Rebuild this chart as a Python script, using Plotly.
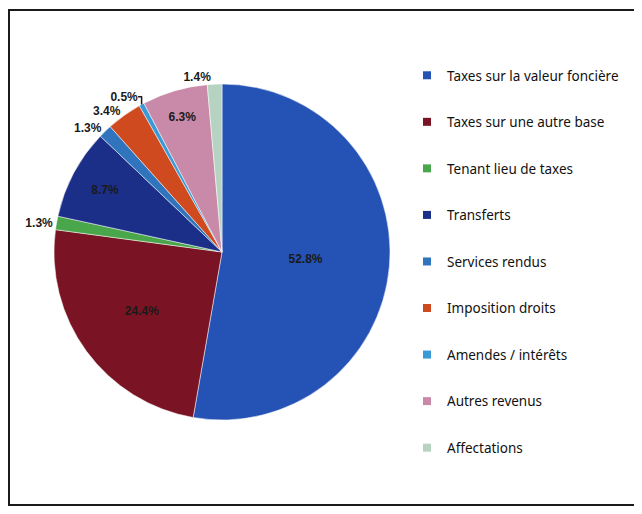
import plotly.graph_objects as go

labels = ["Taxes sur la valeur foncière", "Taxes sur une autre base", "Tenant lieu de taxes",
          "Transferts", "Services rendus", "Imposition droits", "Amendes / intérêts",
          "Autres revenus", "Affectations"]
values = [52.8, 24.4, 1.3, 8.7, 1.3, 3.4, 0.5, 6.3, 1.4]
colors = ["#2553b5", "#7a1424", "#4aa64a", "#1b2f88", "#2f74bd", "#cf4a1f",
          "#3a9ad8", "#c88aa8", "#b6d3c2"]
positions = ["inside", "inside", "outside", "inside", "outside", "outside",
             "outside", "inside", "outside"]

W, H = 642, 514
fig = go.Figure()
fig.add_trace(go.Pie(
    labels=labels, values=values, sort=False, direction="clockwise", rotation=0,
    marker=dict(colors=colors, line=dict(color="white", width=0.5)),
    texttemplate="%{value:.1f}%", textposition=positions,
    insidetextorientation="horizontal",
    textfont=dict(family="Liberation Sans", size=12, color="#1a1a1a", weight="bold"),
    showlegend=False,
    domain=dict(x=[46 / W, 382 / W], y=[(H - 412) / H, (H - 76) / H]),
))
for lab, col in zip(labels, colors):
    fig.add_trace(go.Scatter(x=[None], y=[None], mode="markers", name=lab,
                             legendgroup=lab,
                             marker=dict(symbol="square", size=8, color=col)))

fig.update_layout(
    width=W, height=H, margin=dict(l=0, r=0, t=0, b=0),
    paper_bgcolor="white", plot_bgcolor="white",
    xaxis=dict(visible=False), yaxis=dict(visible=False),
    legend=dict(x=399 / W, y=(H - 52) / H, xanchor="left", yanchor="top",
                traceorder="grouped", tracegroupgap=26, itemwidth=30,
                font=dict(family="Noto Sans", size=13.5, color="#111111"),
                bgcolor="rgba(0,0,0,0)"),
    shapes=[dict(type="rect", xref="paper", yref="paper",
                 x0=1 / W, x1=628 / W, y0=(H - 497) / H, y1=(H - 2) / H,
                 line=dict(color="#1a1a1a", width=2))],
)
fig.write_html("out.html")
